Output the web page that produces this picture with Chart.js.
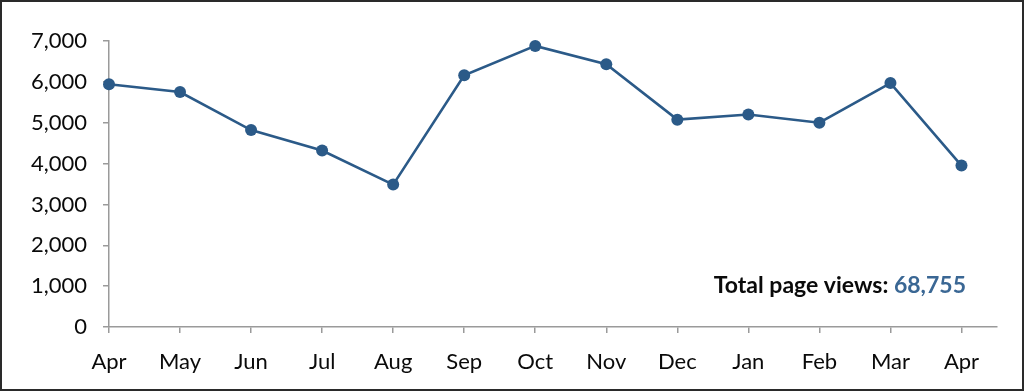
<!DOCTYPE html>
<html>
<head>
<meta charset="utf-8">
<script src="https://cdn.jsdelivr.net/npm/chart.js@4"></script>
<style>
  html, body { margin: 0; padding: 0; background: #fff; }
  #frame {
    position: absolute; left: 0; top: 0;
    width: 1024px; height: 391px;
    box-sizing: border-box;
    border: 2px solid #2a2a2a;
    background: #fff;
  }
  #wrap { position: absolute; left: 0; top: 0; width: 1020px; height: 387px; }
</style>
</head>
<body>
<div id="frame"><div id="wrap"><canvas id="c"></canvas></div></div>
<script>
// ── DATA ───────────────────────────────────────────────────────
const months = ['Apr', 'May', 'Jun', 'Jul', 'Aug', 'Sep', 'Oct', 'Nov', 'Dec', 'Jan', 'Feb', 'Mar', 'Apr'];
const pageViews = [5940, 5750, 4820, 4320, 3485, 6160, 6880, 6430, 5075, 5200, 5000, 5970, 3950];
const yTicks = [0, 1000, 2000, 3000, 4000, 5000, 6000, 7000];
const totalLabel = 'Total page views: ';
const totalValue = '68,755';

// ── STYLE ──────────────────────────────────────────────────────
const lineColor = '#2b5a88';
const axisColor = '#9a9a9a';
const fontFamily = 'Lato, "Noto Sans", sans-serif';

// total text drawn inside the chart area, bottom right
const totalText = {
  id: 'totalText',
  afterDraw(chart) {
    const ctx = chart.ctx;
    const a = chart.chartArea;
    ctx.save();
    ctx.font = 'bold 23px ' + fontFamily;
    ctx.textBaseline = 'alphabetic';
    ctx.textAlign = 'left';
    const w1 = ctx.measureText(totalLabel).width;
    const w2 = ctx.measureText(totalValue).width;
    const xEnd = a.right - 31;
    const y = a.bottom - 34;
    ctx.fillStyle = '#0a0a0a';
    ctx.fillText(totalLabel, xEnd - w1 - w2, y);
    ctx.fillStyle = '#3a6794';
    ctx.fillText(totalValue, xEnd - w2, y);
    ctx.restore();
  }
};

new Chart(document.getElementById('c'), {
  type: 'line',
  data: {
    datasets: [{
      data: pageViews.map((v, i) => ({ x: i, y: v })),
      borderColor: lineColor,
      backgroundColor: lineColor,
      borderWidth: 2.6,
      pointRadius: 6,
      pointBackgroundColor: lineColor,
      pointBorderWidth: 0,
      tension: 0,
      clip: false
    }]
  },
  options: {
    responsive: true,
    maintainAspectRatio: false,
    animation: false,
    layout: { padding: { left: 0, top: 39, right: 25, bottom: 0 } },
    plugins: { legend: { display: false }, tooltip: { enabled: false } },
    scales: {
      x: {
        type: 'linear',
        min: 0,
        max: 12.5,
        afterBuildTicks: s => { s.ticks = months.map((m, i) => ({ value: i })); },
        afterFit: s => { s.height = 62; },
        ticks: {
          callback: v => months[v],
          color: '#0a0a0a',
          font: { family: fontFamily, size: 22 },
          padding: 16,
          maxRotation: 0,
          autoSkip: false
        },
        grid: { drawOnChartArea: false, tickLength: 6, color: axisColor, lineWidth: 1.5 },
        border: { color: axisColor, width: 1.5 }
      },
      y: {
        min: 0,
        max: 7000,
        afterBuildTicks: s => { s.ticks = yTicks.map(v => ({ value: v })); },
        afterFit: s => { s.width = 107; },
        ticks: {
          callback: v => v.toLocaleString('en-US'),
          color: '#0a0a0a',
          font: { family: fontFamily, size: 22 },
          padding: 16
        },
        grid: { drawOnChartArea: false, tickLength: 6, color: axisColor, lineWidth: 1.5 },
        border: { color: axisColor, width: 1.5 }
      }
    }
  },
  plugins: [totalText]
});
</script>
</body>
</html>
